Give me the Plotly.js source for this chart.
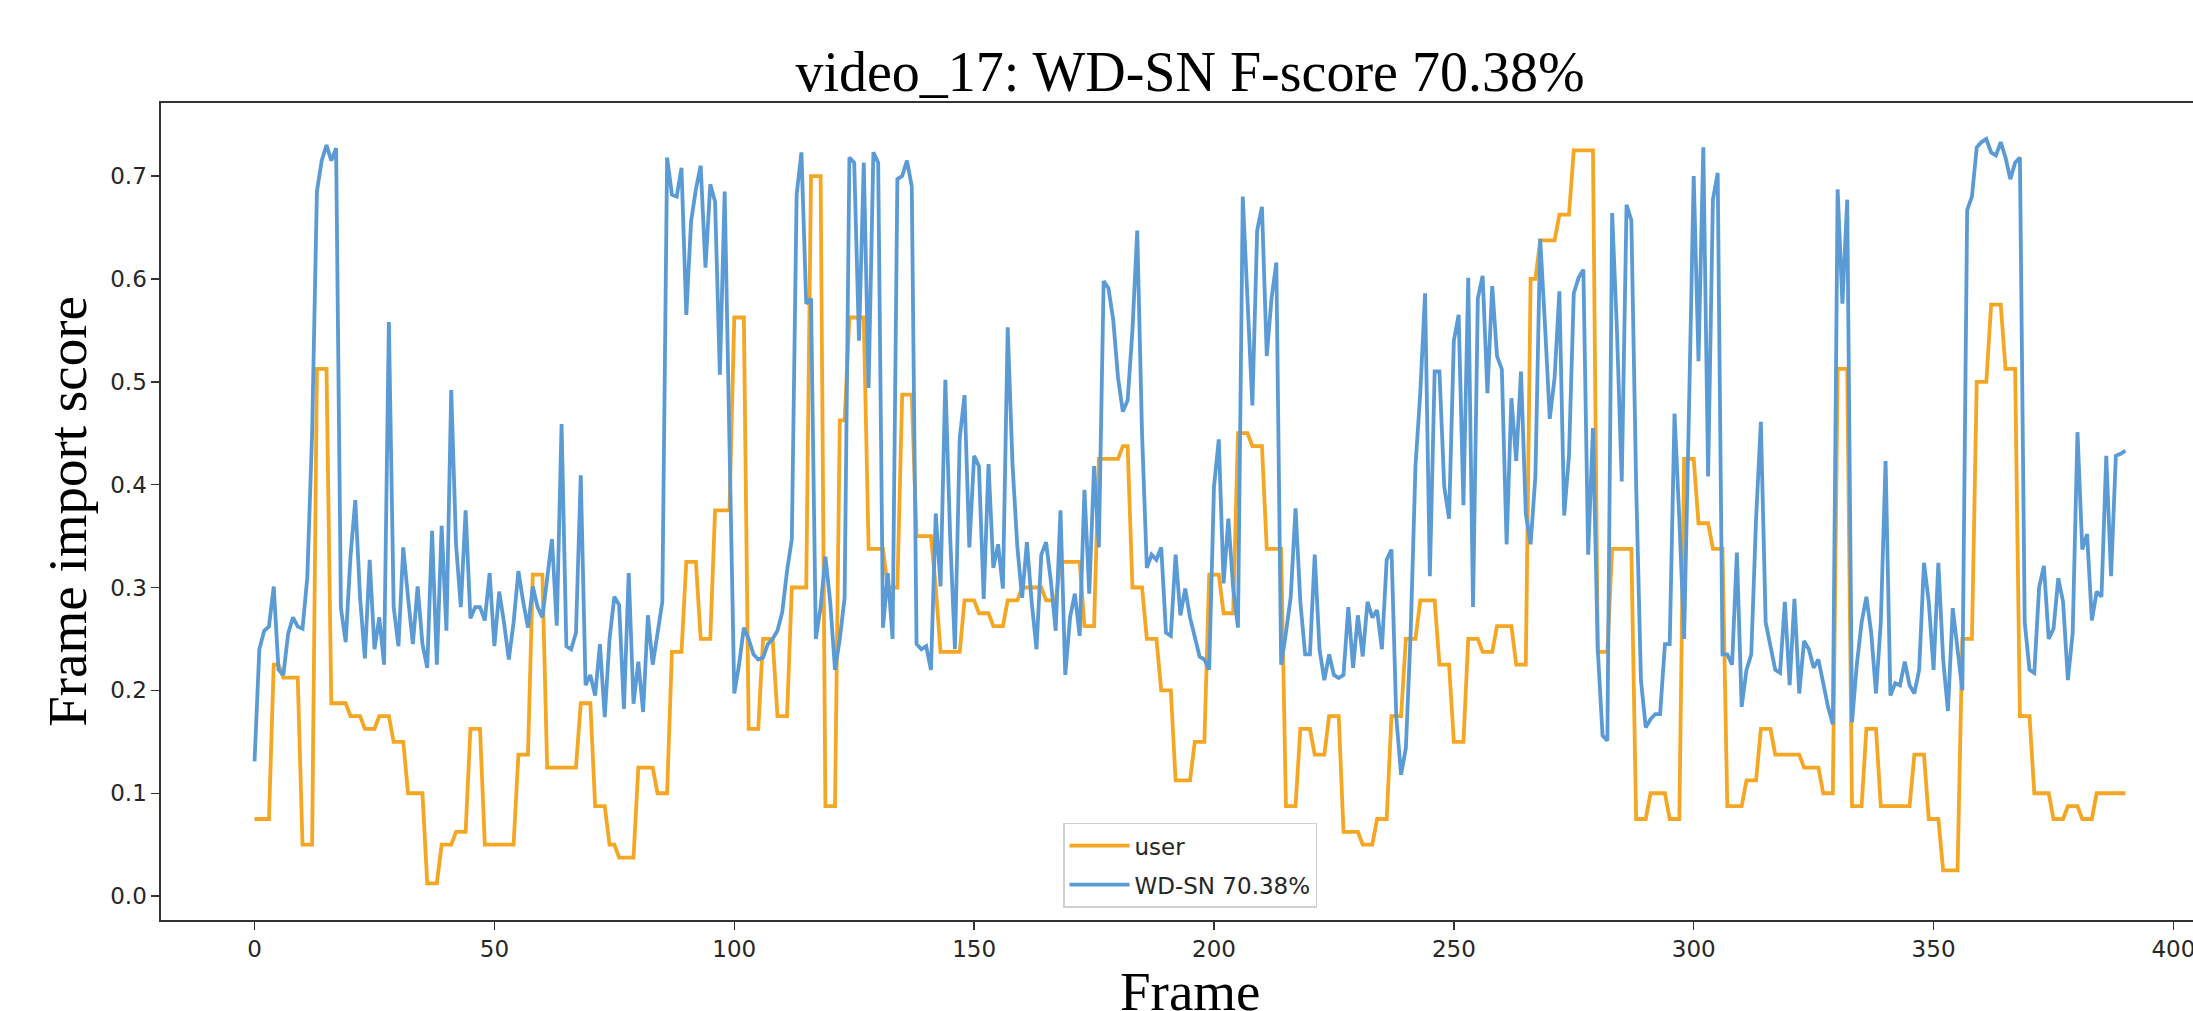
<!DOCTYPE html>
<html>
<head>
<meta charset="utf-8">
<script src="https://cdn.plot.ly/plotly-3.0.1.min.js"></script>
<style>
  html, body { margin: 0; padding: 0; overflow: hidden; background: #fff; width: 2193px; height: 1011px; }
  #wrap { position: absolute; left: 0; top: 0; width: 2193px; height: 1011px; overflow: hidden; }
  #chart { position: absolute; left: 0; top: 0; width: 2300px; height: 1011px; }
</style>
</head>
<body>
<div id="wrap"><div id="chart"></div></div>
<script>
// Frame indices 0..390
const frameCount = 391;

// Ground-truth user score per frame (step-like)
const userScores = [
  0.075,0.075,0.075,0.075,0.225,0.225,0.2125,0.2125,0.2125,0.2125,
  0.05,0.05,0.05,0.5125,0.5125,0.5125,0.1875,0.1875,0.1875,0.1875,
  0.175,0.175,0.175,0.1625,0.1625,0.1625,0.175,0.175,0.175,0.15,
  0.15,0.15,0.1,0.1,0.1,0.1,0.0125,0.0125,0.0125,0.05,
  0.05,0.05,0.0625,0.0625,0.0625,0.1625,0.1625,0.1625,0.05,0.05,
  0.05,0.05,0.05,0.05,0.05,0.1375,0.1375,0.1375,0.3125,0.3125,
  0.3125,0.125,0.125,0.125,0.125,0.125,0.125,0.125,0.1875,0.1875,
  0.1875,0.0875,0.0875,0.0875,0.05,0.05,0.0375,0.0375,0.0375,0.0375,
  0.125,0.125,0.125,0.125,0.1,0.1,0.1,0.2375,0.2375,0.2375,
  0.325,0.325,0.325,0.25,0.25,0.25,0.375,0.375,0.375,0.375,
  0.5625,0.5625,0.5625,0.1625,0.1625,0.1625,0.25,0.25,0.25,0.175,
  0.175,0.175,0.3,0.3,0.3,0.3,0.7,0.7,0.7,0.0875,
  0.0875,0.0875,0.4625,0.4625,0.5625,0.5625,0.5625,0.5625,0.3375,0.3375,
  0.3375,0.3375,0.3,0.3,0.3,0.4875,0.4875,0.4875,0.35,0.35,
  0.35,0.35,0.3,0.2375,0.2375,0.2375,0.2375,0.2375,0.2875,0.2875,
  0.2875,0.275,0.275,0.275,0.2625,0.2625,0.2625,0.2875,0.2875,0.2875,
  0.3,0.3,0.3,0.3,0.3,0.2875,0.2875,0.2875,0.325,0.325,
  0.325,0.325,0.325,0.2625,0.2625,0.2625,0.425,0.425,0.425,0.425,
  0.425,0.4375,0.4375,0.3,0.3,0.3,0.25,0.25,0.25,0.2,
  0.2,0.2,0.1125,0.1125,0.1125,0.1125,0.15,0.15,0.15,0.3125,
  0.3125,0.3125,0.275,0.275,0.275,0.45,0.45,0.45,0.4375,0.4375,
  0.4375,0.3375,0.3375,0.3375,0.3375,0.0875,0.0875,0.0875,0.1625,0.1625,
  0.1625,0.1375,0.1375,0.1375,0.175,0.175,0.175,0.0625,0.0625,0.0625,
  0.0625,0.05,0.05,0.05,0.075,0.075,0.075,0.175,0.175,0.175,
  0.25,0.25,0.25,0.2875,0.2875,0.2875,0.2875,0.225,0.225,0.225,
  0.15,0.15,0.15,0.25,0.25,0.25,0.2375,0.2375,0.2375,0.2625,
  0.2625,0.2625,0.2625,0.225,0.225,0.225,0.6,0.6,0.6375,0.6375,
  0.6375,0.6375,0.6625,0.6625,0.6625,0.725,0.725,0.725,0.725,0.725,
  0.2375,0.2375,0.2375,0.3375,0.3375,0.3375,0.3375,0.3375,0.075,0.075,
  0.075,0.1,0.1,0.1,0.1,0.075,0.075,0.075,0.425,0.425,
  0.425,0.3625,0.3625,0.3625,0.3375,0.3375,0.3375,0.0875,0.0875,0.0875,
  0.0875,0.1125,0.1125,0.1125,0.1625,0.1625,0.1625,0.1375,0.1375,0.1375,
  0.1375,0.1375,0.1375,0.125,0.125,0.125,0.125,0.1,0.1,0.1,
  0.5125,0.5125,0.5125,0.0875,0.0875,0.0875,0.1625,0.1625,0.1625,0.0875,
  0.0875,0.0875,0.0875,0.0875,0.0875,0.0875,0.1375,0.1375,0.1375,0.075,
  0.075,0.075,0.025,0.025,0.025,0.025,0.25,0.25,0.25,0.5,
  0.5,0.5,0.575,0.575,0.575,0.5125,0.5125,0.5125,0.175,0.175,
  0.175,0.1,0.1,0.1,0.1,0.075,0.075,0.075,0.0875,0.0875,
  0.0875,0.075,0.075,0.075,0.1,0.1,0.1,0.1,0.1,0.1,
  0.1
];

// WD-SN predicted score per frame
const wdsnScores = [
  0.131,0.24,0.258,0.262,0.301,0.22,0.215,0.255,0.271,0.262,
  0.26,0.31,0.45,0.685,0.715,0.73,0.715,0.727,0.28,0.247,
  0.33,0.385,0.29,0.231,0.327,0.24,0.271,0.225,0.558,0.281,
  0.243,0.339,0.29,0.245,0.301,0.245,0.222,0.355,0.225,0.36,
  0.258,0.492,0.342,0.281,0.375,0.27,0.281,0.281,0.268,0.314,
  0.243,0.296,0.266,0.23,0.266,0.316,0.286,0.261,0.301,0.281,
  0.271,0.309,0.347,0.263,0.459,0.243,0.24,0.256,0.409,0.205,
  0.215,0.195,0.245,0.174,0.25,0.291,0.283,0.182,0.314,0.187,
  0.228,0.179,0.273,0.225,0.256,0.286,0.718,0.682,0.68,0.708,
  0.565,0.656,0.687,0.71,0.611,0.692,0.675,0.507,0.685,0.45,
  0.197,0.225,0.261,0.25,0.235,0.23,0.232,0.245,0.25,0.258,
  0.276,0.316,0.347,0.682,0.723,0.576,0.581,0.25,0.281,0.33,
  0.286,0.22,0.25,0.29,0.718,0.713,0.54,0.713,0.494,0.723,
  0.713,0.261,0.314,0.25,0.697,0.70,0.715,0.69,0.245,0.24,
  0.243,0.22,0.372,0.301,0.502,0.35,0.24,0.445,0.487,0.339,
  0.428,0.418,0.289,0.42,0.319,0.342,0.299,0.553,0.42,0.34,
  0.29,0.344,0.286,0.24,0.332,0.344,0.306,0.258,0.375,0.215,
  0.271,0.294,0.253,0.395,0.294,0.418,0.339,0.598,0.591,0.56,
  0.504,0.471,0.482,0.55,0.647,0.45,0.319,0.332,0.327,0.339,
  0.256,0.253,0.332,0.273,0.299,0.271,0.253,0.233,0.23,0.22,
  0.398,0.444,0.304,0.367,0.299,0.261,0.68,0.581,0.477,0.647,
  0.67,0.525,0.581,0.616,0.225,0.256,0.291,0.377,0.286,0.235,
  0.235,0.332,0.24,0.21,0.235,0.215,0.212,0.215,0.281,0.222,
  0.273,0.233,0.286,0.271,0.278,0.24,0.327,0.337,0.174,0.118,
  0.144,0.256,0.418,0.489,0.586,0.311,0.51,0.51,0.398,0.367,
  0.54,0.565,0.38,0.601,0.281,0.581,0.603,0.489,0.593,0.525,
  0.512,0.342,0.484,0.423,0.51,0.372,0.342,0.408,0.639,0.555,
  0.464,0.504,0.588,0.37,0.428,0.586,0.601,0.609,0.332,0.455,
  0.24,0.156,0.151,0.664,0.55,0.403,0.672,0.657,0.40,0.21,
  0.164,0.172,0.177,0.177,0.245,0.245,0.469,0.367,0.25,0.469,
  0.70,0.52,0.728,0.408,0.677,0.703,0.235,0.235,0.225,0.334,
  0.184,0.22,0.235,0.367,0.461,0.266,0.245,0.22,0.217,0.286,
  0.205,0.289,0.197,0.248,0.24,0.222,0.23,0.205,0.184,0.167,
  0.687,0.576,0.677,0.169,0.225,0.266,0.291,0.256,0.197,0.266,
  0.423,0.195,0.207,0.205,0.228,0.205,0.197,0.22,0.324,0.286,
  0.22,0.324,0.23,0.18,0.28,0.24,0.2,0.667,0.68,0.728,
  0.733,0.736,0.723,0.72,0.733,0.718,0.697,0.713,0.718,0.266,
  0.22,0.217,0.30,0.321,0.25,0.26,0.309,0.286,0.21,0.256,
  0.451,0.337,0.352,0.268,0.296,0.291,0.428,0.311,0.428,0.43,
  0.433
];

const frames = Array.from({length: frameCount}, (_, i) => i);

const xTickVals = [0, 50, 100, 150, 200, 250, 300, 350, 400];
const xTickText = ['0', '50', '100', '150', '200', '250', '300', '350', '400'];
const yTickVals = [0, 0.1, 0.2, 0.3, 0.4, 0.5, 0.6, 0.7];
const yTickText = ['0.0', '0.1', '0.2', '0.3', '0.4', '0.5', '0.6', '0.7'];

const titleText = 'video_17: WD-SN F-score 70.38%';
const xTitleText = 'Frame';
const yTitleText = 'Frame import score';
const userName = 'user';
const wdsnName = 'WD-SN 70.38%';

const tickFont = {family: 'DejaVu Sans', size: 23, color: '#262626'};
const serif = 'Liberation Serif, Times New Roman, serif';

const traces = [
  {x: frames, y: userScores, type: 'scatter', mode: 'lines', name: userName,
   legendgroup: 'a', line: {color: '#F5A623', width: 3.8}},
  {x: frames, y: wdsnScores, type: 'scatter', mode: 'lines', name: wdsnName,
   legendgroup: 'b', line: {color: '#5B9BD5', width: 3.8}}
];

const layout = {
  width: 2300, height: 1011,
  margin: {l: 161, r: 81, t: 103, b: 91, pad: 0},
  paper_bgcolor: '#fff', plot_bgcolor: '#fff',
  showlegend: true,
  title: {text: titleText, font: {family: serif, size: 56, color: '#000'},
          x: 0.5, xref: 'paper', xanchor: 'center', y: 0.91, yref: 'container', yanchor: 'bottom'},
  xaxis: {
    range: [-19.5, 409.5], tickvals: xTickVals, ticktext: xTickText,
    showgrid: false, zeroline: false, showline: true, mirror: true,
    linecolor: '#333', linewidth: 1.6, ticks: 'outside', ticklen: 8, tickwidth: 1.5, tickcolor: '#333',
    tickfont: tickFont, automargin: false
  },
  yaxis: {
    range: [-0.0232, 0.771], tickvals: yTickVals, ticktext: yTickText,
    showgrid: false, zeroline: false, showline: true, mirror: true,
    linecolor: '#333', linewidth: 1.6, ticks: 'outside', ticklen: 8, tickwidth: 1.5, tickcolor: '#333',
    tickfont: tickFont, automargin: false,
    title: {text: yTitleText, font: {family: serif, size: 55, color: '#000'}, standoff: 6}
  },
  annotations: [
    {text: xTitleText, xref: 'paper', yref: 'paper', x: 0.5, y: -0.088,
     xanchor: 'center', yanchor: 'middle', showarrow: false,
     font: {family: serif, size: 55, color: '#000'}}
  ],
  legend: {
    x: 0.5, xanchor: 'center', y: 0.015, yanchor: 'bottom',
    bgcolor: 'rgba(255,255,255,0.85)', bordercolor: '#d0d0d0', borderwidth: 1.5,
    font: {family: 'DejaVu Sans', size: 23, color: '#262626'},
    tracegroupgap: 6, itemwidth: 60
  }
};

Plotly.newPlot('chart', traces, layout, {displayModeBar: false, responsive: false, staticPlot: true});
</script>
</body>
</html>
